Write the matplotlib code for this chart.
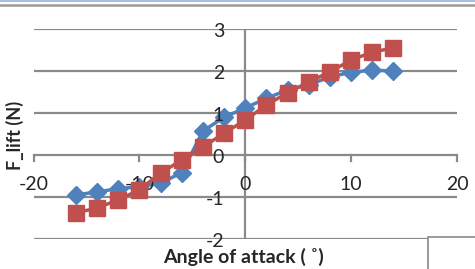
import matplotlib
matplotlib.use("Agg")
import matplotlib.pyplot as plt
from matplotlib.lines import Line2D
from matplotlib.patches import Rectangle

angles = [-16, -14, -12, -10, -8, -6, -4, -2, 0, 2, 4, 6, 8, 10, 12, 14]
lift_blue = [-0.95, -0.88, -0.8, -0.76, -0.67, -0.42, 0.57, 0.9, 1.12, 1.35, 1.55, 1.67, 1.86, 1.97, 2.02, 2.0]
lift_red = [-1.38, -1.26, -1.07, -0.83, -0.43, -0.12, 0.19, 0.52, 0.83, 1.19, 1.48, 1.74, 1.98, 2.26, 2.45, 2.55]
xticks = [-20, -10, 0, 10, 20]
yticks = [-2, -1, 0, 1, 2, 3]

W, H = 475, 269
fig = plt.figure(figsize=(W / 100, H / 100), dpi=100)
ax = fig.add_axes([33.5 / W, (H - 239) / H, (457 - 33.5) / W, 210 / H])
ax.set_xlim(-20, 20)
ax.set_ylim(-2, 3)
ax.patch.set_alpha(0)

grid_c = "#8a8a8a"
for y in yticks:
    ax.axhline(y, color=grid_c, lw=1.6, zorder=1)
ax.axvline(0, color=grid_c, lw=1.6, zorder=1)

for s in ["top", "right", "bottom", "left"]:
    ax.spines[s].set_visible(False)

ax.plot(angles, lift_blue, color="#4F81BD", lw=2.5, marker="D", ms=9.5,
        mec="#4F81BD", zorder=3)
ax.plot(angles, lift_red, color="#C0504D", lw=2.5, marker="s", ms=12,
        mec="#C0504D", zorder=4)

font = "Lato"
txt_c = "#262626"
ax.set_xticks([])
ax.set_yticks([])
for xv in xticks:
    ax.plot([xv, xv], [0, -0.14], color=grid_c, lw=1.6, zorder=1, clip_on=False)
    ax.text(xv, -0.7, f"{xv}", ha="center", va="center", fontsize=14,
            family=font, color=txt_c)
for yv in yticks:
    ax.text(-2.0, yv - 0.05, f"{yv}", ha="right", va="center", fontsize=14,
            family=font, color=txt_c)

fig.text(15 / W, 1 - 135 / H, "F_lift (N)", rotation=90, ha="center", va="center",
         fontsize=13, fontweight="bold", family=font, color=txt_c)
fig.text(243 / W, 1 - 257 / H, "Angle of attack ( ˚)", ha="center", va="center",
         fontsize=14, fontweight="bold", family=font, color=txt_c)

# frame lines at top
fig.add_artist(Line2D([0, 1], [1 - 1 / H, 1 - 1 / H], color="#A9C1E0", lw=1.5))
fig.add_artist(Line2D([0, 1], [1 - 5 / H, 1 - 5 / H], color="#9a9a9a", lw=1.8))
# box at bottom right
fig.add_artist(Rectangle((428 / W, -0.01), (W - 428 + 5) / W, (269 - 237) / H + 0.01,
                         transform=fig.transFigure, facecolor="white",
                         edgecolor="#8a8a8a", lw=1.2, zorder=5))

fig.savefig("out.png", dpi=100)
